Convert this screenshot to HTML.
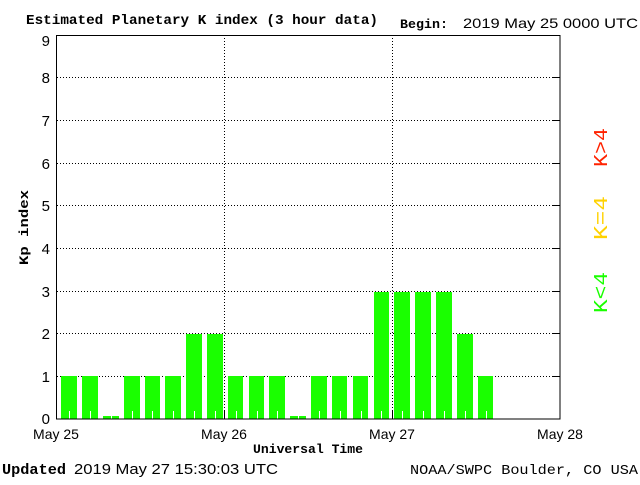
<!DOCTYPE html>
<html><head><style>
body{margin:0;background:#fff;width:640px;height:480px;overflow:hidden}
svg text{font-family:"Liberation Sans",sans-serif}
svg text.s{font-family:"Liberation Mono",monospace;font-weight:bold}
</style></head><body>
<svg width="640" height="480" xmlns="http://www.w3.org/2000/svg">
<text x="26" y="24" class="s" font-size="14" textLength="352" lengthAdjust="spacingAndGlyphs">Estimated Planetary K index (3 hour data)</text>
<text x="400" y="28" class="s" font-size="13" textLength="48" lengthAdjust="spacingAndGlyphs">Begin:</text>
<text x="463" y="28" font-size="14" textLength="175" lengthAdjust="spacingAndGlyphs">2019 May 25 0000 UTC</text>
<g stroke="#000" stroke-width="1" stroke-dasharray="1,2">
<line x1="57" x2="560" y1="376.5" y2="376.5"/><line x1="57" x2="560" y1="333.5" y2="333.5"/>
<line x1="57" x2="560" y1="291.5" y2="291.5"/><line x1="57" x2="560" y1="248.5" y2="248.5"/>
<line x1="57" x2="560" y1="205.5" y2="205.5"/><line x1="57" x2="560" y1="163.5" y2="163.5"/>
<line x1="57" x2="560" y1="120.5" y2="120.5"/><line x1="57" x2="560" y1="77.5" y2="77.5"/>
<line x1="224.5" x2="224.5" y1="35" y2="419"/><line x1="392.5" x2="392.5" y1="35" y2="419"/>
</g>
<g fill="#1aff00">
<rect x="61" y="376" width="16" height="43"/><rect x="82" y="376" width="16" height="43"/>
<rect x="103" y="416" width="16" height="3"/><rect x="124" y="376" width="16" height="43"/>
<rect x="145" y="376" width="15" height="43"/><rect x="165" y="376" width="16" height="43"/>
<rect x="186" y="334" width="16" height="85"/><rect x="207" y="334" width="16" height="85"/>
<rect x="228" y="376" width="15" height="43"/><rect x="249" y="376" width="15" height="43"/>
<rect x="269" y="376" width="16" height="43"/><rect x="290" y="416" width="16" height="3"/>
<rect x="311" y="376" width="16" height="43"/><rect x="332" y="376" width="15" height="43"/>
<rect x="353" y="376" width="15" height="43"/><rect x="374" y="292" width="15" height="127"/>
<rect x="394" y="292" width="16" height="127"/><rect x="415" y="292" width="16" height="127"/>
<rect x="436" y="292" width="16" height="127"/><rect x="457" y="334" width="16" height="85"/>
<rect x="478" y="376" width="15" height="43"/>
</g>
<g stroke="#fff" stroke-width="1">
<line x1="69.5" x2="69.5" y1="411" y2="419"/><line x1="90.5" x2="90.5" y1="411" y2="419"/><line x1="111.5" x2="111.5" y1="411" y2="419"/><line x1="132.5" x2="132.5" y1="411" y2="419"/><line x1="152.5" x2="152.5" y1="411" y2="419"/><line x1="173.5" x2="173.5" y1="411" y2="419"/><line x1="194.5" x2="194.5" y1="411" y2="419"/><line x1="215.5" x2="215.5" y1="411" y2="419"/><line x1="236.5" x2="236.5" y1="411" y2="419"/><line x1="257.5" x2="257.5" y1="411" y2="419"/><line x1="277.5" x2="277.5" y1="411" y2="419"/><line x1="298.5" x2="298.5" y1="411" y2="419"/><line x1="319.5" x2="319.5" y1="411" y2="419"/><line x1="340.5" x2="340.5" y1="411" y2="419"/><line x1="361.5" x2="361.5" y1="411" y2="419"/><line x1="381.5" x2="381.5" y1="411" y2="419"/><line x1="402.5" x2="402.5" y1="411" y2="419"/><line x1="423.5" x2="423.5" y1="411" y2="419"/><line x1="444.5" x2="444.5" y1="411" y2="419"/><line x1="465.5" x2="465.5" y1="411" y2="419"/><line x1="486.5" x2="486.5" y1="411" y2="419"/>
</g>
<rect x="56.5" y="35.5" width="503.5" height="383.5" fill="none" stroke="#000" stroke-width="1"/>
<g stroke="#000">
<line x1="553" x2="560" y1="376.5" y2="376.5"/><line x1="553" x2="560" y1="333.5" y2="333.5"/><line x1="553" x2="560" y1="291.5" y2="291.5"/><line x1="553" x2="560" y1="248.5" y2="248.5"/><line x1="553" x2="560" y1="205.5" y2="205.5"/><line x1="553" x2="560" y1="163.5" y2="163.5"/><line x1="553" x2="560" y1="120.5" y2="120.5"/><line x1="553" x2="560" y1="77.5" y2="77.5"/>
<line x1="224.5" x2="224.5" y1="411" y2="419"/><line x1="392.5" x2="392.5" y1="411" y2="419"/>
</g>
<g font-size="15" text-anchor="end">
<text x="50" y="424">0</text><text x="50" y="382">1</text><text x="50" y="339">2</text><text x="50" y="297">3</text><text x="50" y="254">4</text><text x="50" y="211">5</text><text x="50" y="169">6</text><text x="50" y="126">7</text><text x="50" y="83">8</text><text x="50" y="46">9</text>
</g>
<g font-size="14" text-anchor="middle">
<text x="56" y="439">May 25</text><text x="224" y="439">May 26</text><text x="392" y="439">May 27</text><text x="560" y="439">May 28</text>
</g>
<text x="253" y="453" class="s" font-size="13" textLength="110" lengthAdjust="spacingAndGlyphs">Universal Time</text>
<text transform="translate(28,265) rotate(-90)" class="s" font-size="13" textLength="75" lengthAdjust="spacingAndGlyphs">Kp index</text>
<text x="2" y="474" class="s" font-size="15" textLength="64" lengthAdjust="spacingAndGlyphs">Updated</text>
<text x="74" y="474" font-size="15" textLength="204" lengthAdjust="spacingAndGlyphs">2019 May 27 15:30:03 UTC</text>
<text x="410" y="474" class="s" font-size="14" style="font-weight:normal" textLength="228" lengthAdjust="spacingAndGlyphs">NOAA/SWPC Boulder, CO USA</text>
<g font-size="19">
<text transform="translate(607,167) rotate(-90)" class="s" style="font-weight:normal" fill="#ff2200" textLength="39" lengthAdjust="spacingAndGlyphs">K&gt;4</text>
<text transform="translate(607,240) rotate(-90)" class="s" style="font-weight:normal" fill="#ffd200" textLength="44" lengthAdjust="spacingAndGlyphs">K=4</text>
<text transform="translate(607,313) rotate(-90)" class="s" style="font-weight:normal" fill="#1aff00" textLength="41" lengthAdjust="spacingAndGlyphs">K&lt;4</text>
</g>
</svg>
</body></html>
